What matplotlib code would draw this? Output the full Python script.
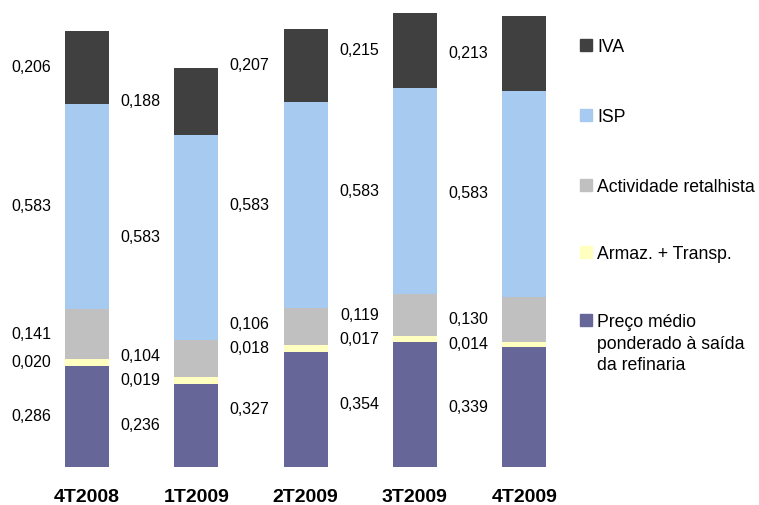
import matplotlib.pyplot as plt
from matplotlib.patches import Rectangle
import numpy as np

plt.rcParams['font.family'] = ['Liberation Sans', 'DejaVu Sans']

periods = ['4T2008', '1T2009', '2T2009', '3T2009', '4T2009']
series = ['Preço médio\nponderado à saída\nda refinaria', 'Armaz. + Transp.',
          'Actividade retalhista', 'ISP', 'IVA']
preco = [0.286, 0.236, 0.327, 0.354, 0.339]
armaz = [0.020, 0.019, 0.018, 0.017, 0.014]
retalho = [0.141, 0.104, 0.106, 0.119, 0.130]
isp = [0.583, 0.583, 0.583, 0.583, 0.583]
iva = [0.206, 0.188, 0.207, 0.215, 0.213]
colors = ['#666699', '#FFFFC0', '#C0C0C0', '#A6CAF0', '#404040']

W, H = 759, 505
fig = plt.figure(figsize=(W / 100, H / 100), dpi=100)
base = 467
scale = 352.8
step = 109.3
x0 = 87
ax = fig.add_axes([0, (H - base) / H, 1, base / H])
ax.set_xlim(-x0 / step, (W - x0) / step)
ax.set_ylim(0, base / scale)
ax.axis('off')

x = np.arange(len(periods))
data = [preco, armaz, retalho, isp, iva]
bw = 44 / step
bottom = np.zeros(len(periods))
mids = []
for vals, c in zip(data, colors):
    vals = np.array(vals)
    ax.bar(x, vals, bw, bottom=bottom, color=c, edgecolor='none')
    mids.append(bottom + vals / 2)
    bottom = bottom + vals

# label positions, pushed apart when the segments are thin
gap = 24 / scale
for i in range(len(periods)):
    ys = [m[i] for m in mids]
    for k in range(1, len(ys)):
        if ys[k] - ys[k - 1] < gap:
            ys[k] = ys[k - 1] + gap
    for k, vals in enumerate(data):
        ax.text(x[i] - bw / 2 - 14 / step, ys[k], ('%.3f' % vals[i]).replace('.', ','),
                ha='right', va='center', fontsize=11.5, color='black')

for i, p in enumerate(periods):
    ax.text(x[i], -31 / scale, p, ha='center', va='center', fontsize=14,
            fontweight='bold', clip_on=False)

# legend
leg_y = [320, 252, 185, 115, 45]
for name, c, yy in zip(series, colors, leg_y):
    fig.patches.append(Rectangle((580 / W, 1 - (yy + 6) / H), 12 / W, 12 / H,
                                 transform=fig.transFigure, color=c))
    fig.text(597 / W, 1 - (yy - 6) / H, name, ha='left', va='top',
             fontsize=12.7, linespacing=1.36)

fig.savefig('out.png', dpi=100)
